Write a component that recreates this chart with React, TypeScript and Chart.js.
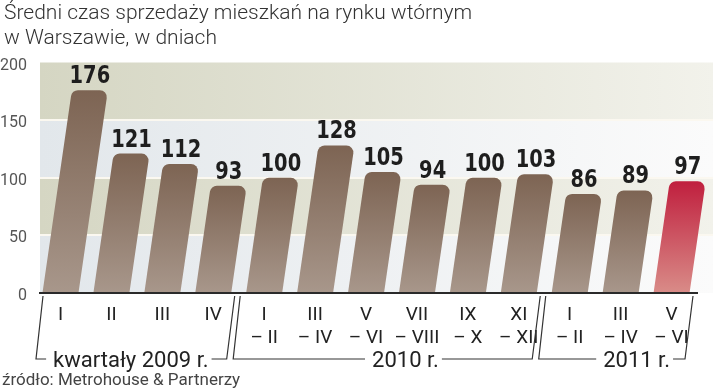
import React, { useEffect, useRef } from "react";
import { Chart, registerables } from "chart.js";

Chart.register(...registerables);

// ---- data ----
const categories: string[][] = [
  ["I"], ["II"], ["III"], ["IV"],
  ["I", "– II"], ["III", "– IV"], ["V", "– VI"], ["VII", "– VIII"], ["IX", "– X"], ["XI", "– XII"],
  ["I", "– II"], ["III", "– IV"], ["V", "– VI"],
];
const values = [176, 121, 112, 93, 100, 128, 105, 94, 100, 103, 86, 89, 97];
const yTicks = [0, 50, 100, 150, 200];
const groupLabels = ["kwartały 2009 r.", "2010 r.", "2011 r."];
const groupStart = [0, 4, 10];
const groupEnd = [3, 9, 12];
const titleLines = ["Średni czas sprzedaży mieszkań na rynku wtórnym", "w Warszawie, w dniach"];
const sourceText = "źródło: Metrohouse & Partnerzy";

// ---- styling constants ----
const SLANT = 0.145;
const FONT = "Roboto, 'DejaVu Sans', sans-serif";
const groupTextShift = [-6, 14, 16];

const decor = {
  id: "decor",
  beforeDatasetsDraw(chart: any) {
    const { ctx, chartArea: a, scales } = chart;
    const y = scales.y;
    const L = a.left + 5;
    const R = a.right + 16;
    ctx.save();
    for (let i = 0; i < yTicks.length - 1; i++) {
      const top = y.getPixelForValue(yTicks[i + 1]);
      const bot = y.getPixelForValue(yTicks[i]);
      const g = ctx.createLinearGradient(L, 0, R, 0);
      if (i % 2 === 1) {
        g.addColorStop(0, "#d5d6c3");
        g.addColorStop(1, "#f2f2eb");
      } else {
        g.addColorStop(0, "#e2e7eb");
        g.addColorStop(1, "#fbfbfb");
      }
      ctx.fillStyle = g;
      ctx.fillRect(L, top, R - L, bot - top);
    }
    ctx.strokeStyle = "#fbf8f0";
    ctx.lineWidth = 2;
    for (const v of yTicks.slice(1, -1)) {
      const py = Math.round(y.getPixelForValue(v));
      ctx.beginPath();
      ctx.moveTo(L, py);
      ctx.lineTo(R, py);
      ctx.stroke();
    }
    ctx.restore();
  },
  afterDatasetsDraw(chart: any) {
    const { ctx, chartArea: a, scales } = chart;
    const xs = scales.x;
    const meta = chart.getDatasetMeta(0);
    const last = values.length - 1;
    ctx.save();
    meta.data.forEach((el: any, i: number) => {
      const p = el.getProps(["x", "y", "base", "width"], true);
      const h = p.base - p.y;
      const tx = p.x + SLANT * h;
      const hw = p.width / 2;
      const r = 7;
      const g = ctx.createLinearGradient(0, p.y, 0, p.base);
      if (i === last) {
        g.addColorStop(0, "#c01f3e");
        g.addColorStop(1, "#d98c88");
      } else {
        g.addColorStop(0, "#7d6453");
        g.addColorStop(1, "#a8978b");
      }
      ctx.fillStyle = g;
      ctx.beginPath();
      ctx.moveTo(p.x - hw, p.base);
      ctx.arcTo(tx - hw, p.y, tx + hw, p.y, r);
      ctx.arcTo(tx + hw, p.y, p.x + hw, p.base, r);
      ctx.lineTo(p.x + hw, p.base);
      ctx.closePath();
      ctx.fill();

      ctx.save();
      ctx.fillStyle = "#1e1e1e";
      ctx.font = "bold 24px 'DejaVu Sans', sans-serif";
      (ctx as any).fontStretch = "condensed";
      ctx.textAlign = "center";
      ctx.textBaseline = "alphabetic";
      ctx.translate(tx, p.y - 7);
      ctx.scale(0.9, 1);
      ctx.fillText(String(values[i]), 0, 0);
      ctx.restore();
    });

    // zero axis line
    ctx.strokeStyle = "#2a2a2a";
    ctx.lineWidth = 2;
    ctx.beginPath();
    ctx.moveTo(a.left + 4, a.bottom);
    ctx.lineTo(a.right + 1, a.bottom);
    ctx.stroke();

    // group brackets
    const cw = xs.getPixelForValue(1) - xs.getPixelForValue(0);
    const yt = a.bottom + 3;
    const yb = a.bottom + 66;
    ctx.strokeStyle = "#333";
    ctx.lineWidth = 1.2;
    ctx.font = `22px ${FONT}`;
    ctx.fillStyle = "#222";
    ctx.textAlign = "center";
    ctx.textBaseline = "alphabetic";
    for (let gI = 0; gI < groupLabels.length; gI++) {
      const lb = xs.getPixelForValue(groupStart[gI]) - cw / 2;
      const rb = xs.getPixelForValue(groupEnd[gI]) + cw / 2;
      const ltx = lb + (gI === 0 ? 8 : 1.5);
      const lbx = ltx - 7;
      const rtx = rb - 4;
      const rbx = rtx - 8;
      const cx = (lb + rb) / 2 + groupTextShift[gI];
      const tw = ctx.measureText(groupLabels[gI]).width;
      ctx.fillText(groupLabels[gI], cx, yb + 8);
      ctx.beginPath();
      ctx.moveTo(ltx, yt);
      ctx.lineTo(lbx, yb);
      ctx.lineTo(Math.max(lbx + 4, cx - tw / 2 - 7), yb);
      ctx.moveTo(cx + tw / 2 + 3, yb);
      ctx.lineTo(rbx, yb);
      ctx.lineTo(rtx, yt);
      ctx.stroke();
    }

    // title and source
    ctx.textAlign = "left";
    ctx.fillStyle = "#333";
    ctx.font = `300 21px ${FONT}`;
    ctx.fillText(titleLines[0], 4, 19);
    ctx.fillText(titleLines[1], 4, 44);
    ctx.font = `17px ${FONT}`;
    ctx.fillStyle = "#444";
    ctx.fillText(sourceText, 2, 385);
    ctx.restore();
  },
};

export default function App() {
  const ref = useRef<HTMLCanvasElement | null>(null);
  useEffect(() => {
    document.body.style.margin = "0";
    const canvas = ref.current;
    if (!canvas) return;
    const chart = new Chart(canvas, {
      type: "bar",
      data: {
        labels: categories as any,
        datasets: [
          {
            data: values,
            backgroundColor: "rgba(0,0,0,0)",
            borderWidth: 0,
            barPercentage: 0.707,
            categoryPercentage: 1,
          },
        ],
      },
      options: {
        responsive: false,
        animation: false,
        devicePixelRatio: 1,
        layout: { padding: { top: 62.5, right: 23, left: 0, bottom: 0 } },
        plugins: {
          legend: { display: false },
          tooltip: { enabled: false },
          title: { display: false },
        },
        scales: {
          x: {
            grid: { display: false, drawTicks: false },
            border: { display: false },
            ticks: {
              font: { family: FONT, size: 19, lineHeight: 1.2 },
              color: "#222",
              padding: 11,
              maxRotation: 0,
              autoSkip: false,
            },
            afterFit: (s: any) => {
              s.height = 96;
            },
          },
          y: {
            min: 0,
            max: 200,
            afterBuildTicks: (s: any) => {
              s.ticks = yTicks.map((v) => ({ value: v }));
            },
            grid: { display: false, drawTicks: false },
            border: { display: false },
            ticks: {
              font: { family: FONT, size: 16 },
              color: "#555",
              padding: 8,
              labelOffset: 3,
            },
            afterFit: (s: any) => {
              s.width = 35;
            },
          },
        },
      },
      plugins: [decor],
    });
    return () => chart.destroy();
  }, []);
  return (
    <div style={{ width: 720, height: 389, background: "#fff" }}>
      <canvas ref={ref} width={720} height={389} style={{ display: "block" }} />
    </div>
  );
}
